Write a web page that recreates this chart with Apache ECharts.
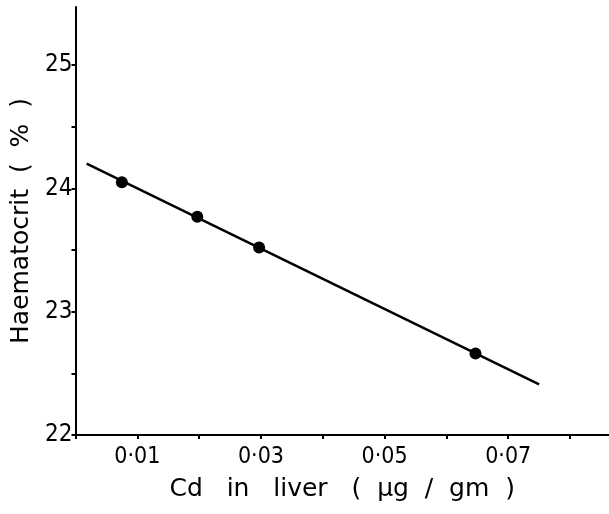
<!DOCTYPE html>
<html>
<head>
<meta charset="utf-8">
<script src="https://cdn.jsdelivr.net/npm/echarts@6/dist/echarts.min.js"></script>
<style>html,body{margin:0;padding:0;background:#fff}#c{width:609px;height:514px}</style>
</head>
<body>
<div id="c"></div>
<script>
// Data
var pointX = [0.0075, 0.0197, 0.0297, 0.0647];
var pointY = [24.05, 23.77, 23.52, 22.66];
var lineX = [0.0018, 0.075];
var lineY = [24.20, 22.41];
var xTickValues = [0.01, 0.03, 0.05, 0.07];
var xTickLabels = ['0·01', '0·03', '0·05', '0·07'];
var yTickValues = [22, 23, 24, 25];
var yTickLabels = ['22', '23', '24', '25'];
var xTitle = 'Cd   in   liver   (  µg  /  gm  )';
var yTitle = 'Haematocrit  (  %  )';

function pairs(xs, ys) { return xs.map(function (x, i) { return [x, ys[i]]; }); }
function lookup(vals, labels, v) {
  for (var i = 0; i < vals.length; i++) if (Math.abs(vals[i] - v) < 1e-6) return labels[i];
  return '';
}

var chart = echarts.init(document.getElementById('c'), null, {renderer: 'canvas'});
chart.setOption({
  backgroundColor: '#fff',
  animation: false,
  grid: {left: 75.5, right: 0, top: 7, bottom: 79, containLabel: false},
  xAxis: {
    type: 'value', min: 0, max: 0.0863, interval: 0.01,
    splitLine: {show: false},
    axisLine: {lineStyle: {color: '#000', width: 2}},
    axisTick: {length: 4, lineStyle: {color: '#000', width: 2}},
    axisLabel: {
      color: '#000', fontFamily: 'DejaVu Sans Condensed', fontSize: 23, margin: 11,
      showMaxLabel: false,
      formatter: function (v) { return lookup(xTickValues, xTickLabels, v); }
    },
    name: xTitle, nameLocation: 'middle', nameGap: 42,
    nameTextStyle: {color: '#000', fontFamily: 'DejaVu Sans', fontSize: 25}
  },
  yAxis: {
    type: 'value', min: 22, max: 25.47, interval: 0.5,
    splitLine: {show: false},
    axisLine: {lineStyle: {color: '#000', width: 2}},
    axisTick: {length: 4, lineStyle: {color: '#000', width: 2}},
    axisLabel: {
      color: '#000', fontFamily: 'DejaVu Sans Condensed', fontSize: 24, margin: 3,
      showMaxLabel: false,
      formatter: function (v) { return lookup(yTickValues, yTickLabels, v); }
    },
    name: yTitle, nameLocation: 'middle', nameGap: 39,
    nameTextStyle: {color: '#000', fontFamily: 'DejaVu Sans', fontSize: 25}
  },
  series: [
    {
      type: 'line', data: pairs(lineX, lineY), symbol: 'none',
      lineStyle: {color: '#000', width: 2.5}, silent: true
    },
    {
      type: 'scatter', data: pairs(pointX, pointY), symbol: 'circle', symbolSize: 12,
      itemStyle: {color: '#000', opacity: 1}
    }
  ]
});
</script>
</body>
</html>
